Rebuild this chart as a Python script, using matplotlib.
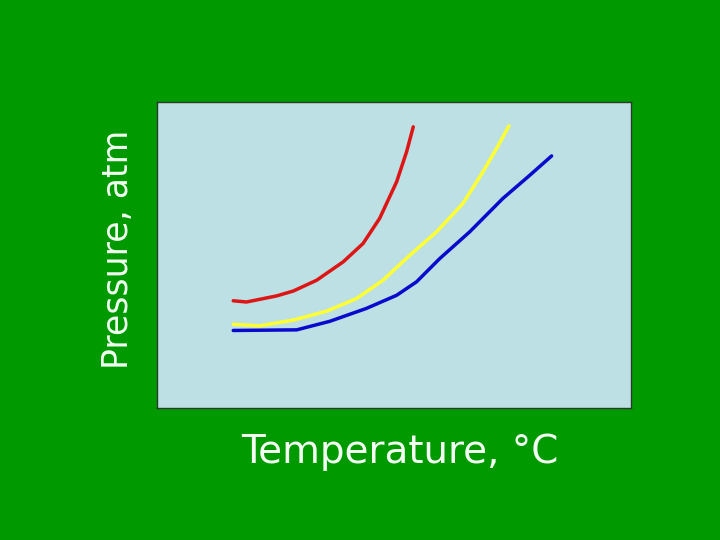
import matplotlib
matplotlib.use("Agg")
import matplotlib.pyplot as plt

# curves, arbitrary units (0-100 on both axes)
red_t = [16.1, 18.9, 25.3, 28.8, 33.7, 39.3, 43.5, 47.0, 50.6, 52.7, 54.1]
red_p = [35.1, 34.7, 36.7, 38.3, 41.8, 47.8, 53.8, 62.0, 74.0, 83.8, 91.9]

yellow_t = [16.1, 21.7, 28.8, 35.8, 42.1, 47.7, 53.4, 59.0, 64.6, 68.8, 71.7, 74.3]
yellow_p = [27.4, 26.9, 28.8, 31.7, 35.8, 41.8, 50.0, 57.6, 66.9, 77.2, 84.9, 92.2]

blue_t = [16.1, 29.5, 36.5, 44.2, 50.6, 54.8, 59.7, 66.0, 73.0, 78.7, 83.3]
blue_p = [25.4, 25.6, 28.4, 32.6, 36.9, 41.3, 48.9, 57.6, 68.5, 76.1, 82.4]

GREEN = "#009a00"
PANEL = "#bce0e3"
TEXT = "#f2fff2"

fig = plt.figure(figsize=(7.2, 5.4), dpi=100, facecolor=GREEN)
ax = fig.add_axes([0.218, 0.244, 0.658, 0.567], facecolor=PANEL)

ax.plot(red_t, red_p, color="#dd1515", lw=2.5, solid_capstyle="round")
ax.plot(yellow_t, yellow_p, color="#ffff33", lw=2.5, solid_capstyle="round")
ax.plot(blue_t, blue_p, color="#0a0acc", lw=2.5, solid_capstyle="round")

ax.set_xlim(0, 100)
ax.set_ylim(0, 100)
ax.set_xticks([])
ax.set_yticks([])
for s in ax.spines.values():
    s.set_color("#2a3a2a")
    s.set_linewidth(1.0)

fig.text(0.164, 0.539, "Pressure, atm", rotation=90, ha="center", va="center",
         fontsize=25, color=TEXT)
fig.text(0.555, 0.163, "Temperature, \u00b0C", ha="center", va="center",
         fontsize=28, color=TEXT)

fig.savefig("out.png", dpi=100, facecolor=GREEN)
